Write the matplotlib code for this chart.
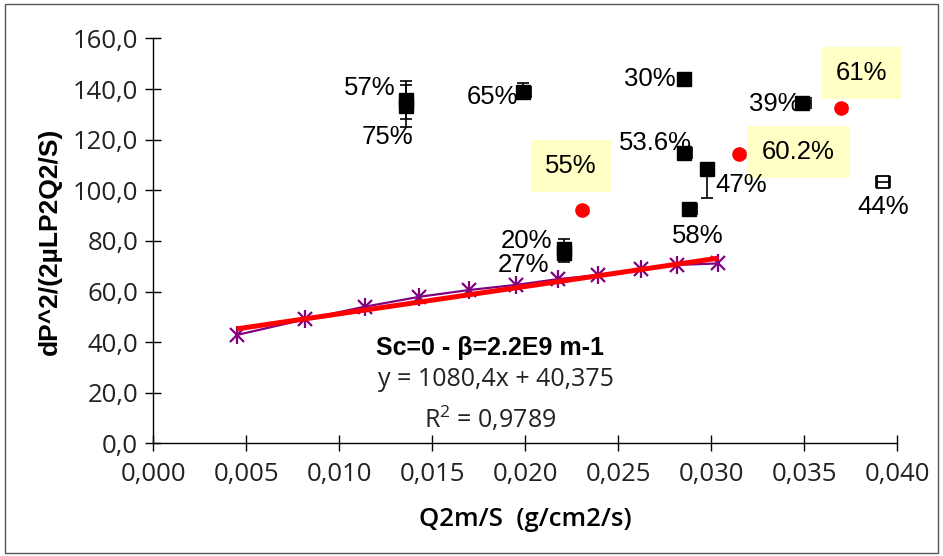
import matplotlib
matplotlib.use("Agg")
import matplotlib.pyplot as plt
from matplotlib.patches import Rectangle
from matplotlib.ticker import FuncFormatter, MultipleLocator

plt.rcParams['mathtext.default'] = 'regular'

# ---------------- data ----------------
# fitted series (purple asterisks)
fit_x = [0.00448, 0.00816, 0.01138, 0.01430, 0.01699, 0.01950, 0.02177,
         0.02393, 0.02622, 0.02814, 0.03038]
fit_y = [42.8, 49.0, 54.0, 57.9, 60.6, 62.6, 64.9, 66.5, 68.8, 70.5, 71.1]
slope = 1080.4
intercept = 40.375

# black squares with error bars
sq_labels = ["57%", "75%", "65%", "30%", "53.6%", "47%", "58%", "20%", "27%", "39%"]
sq_x = [0.01357, 0.01357, 0.01988, 0.02853, 0.02855, 0.02975, 0.02882, 0.02208, 0.02208, 0.03488]
sq_y = [135.7, 133.3, 138.9, 144.0, 114.6, 108.3, 92.5, 76.8, 75.4, 134.5]
sq_yerr_lo = [7.5, 8.3, 2.8, 0.0, 2.0, 11.5, 0.0, 4.0, 3.7, 0.0]
sq_yerr_hi = [7.5, 8.3, 3.5, 0.0, 0.0, 0.0, 0.0, 4.0, 3.7, 0.0]
sq_xerr_hi = [0.0004, 0.0004, 0.0004, 0.0004, 0.0004, 0.0004, 0.0004, 0.0004, 0.0004, 0.0005]

# hollow square
hs_label = "44%"
hs_x = 0.03923
hs_y = 103.3
hs_xerr = 0.0004

# red circles (highlighted)
rc_labels = ["55%", "60.2%", "61%"]
rc_x = [0.02305, 0.03149, 0.03697]
rc_y = [92.2, 114.3, 132.5]
rc_xerr_hi = [0.0003, 0.0003, 0.0003]

title_text = "Sc=0 - β=2.2E9 m-1"
eq_text = "y = 1080,4x + 40,375"
r2_text = "R$^{2}$ = 0,9789"
xlabel = "Q2m/S  (g/cm2/s)"
ylabel = "dP^2/(2µLP2Q2/S)"

# label offsets (pixels) relative to the points
sq_off = [(-36, 12), (-18, -31), (-31, -5), (-34, 0), (-29, 10), (35, -16),
          (8, -27), (-37, 8), (-40, -12), (-27, -1)]
hs_off = (0, -25)
rc_off = [(-11, 44), (59, 2), (21, 35)]

# ---------------- figure ----------------
W, H = 943, 556
fig = plt.figure(figsize=(W / 100, H / 100), dpi=100)
ax = fig.add_axes([153.3 / W, (H - 443.3) / H, (897.3 - 153.3) / W, (443.3 - 38.5) / H])

ax.set_xlim(0, 0.040)
ax.set_ylim(0, 160)
for s in ("top", "right"):
    ax.spines[s].set_visible(False)
for s in ("left", "bottom"):
    ax.spines[s].set_linewidth(1.0)
    ax.spines[s].set_color("black")

ax.xaxis.set_major_locator(MultipleLocator(0.005))
ax.yaxis.set_major_locator(MultipleLocator(20))
ax.xaxis.set_major_formatter(FuncFormatter(lambda v, p: f"{v:.3f}".replace(".", ",")))
ax.yaxis.set_major_formatter(FuncFormatter(lambda v, p: f"{v:.1f}".replace(".", ",")))
ax.tick_params(direction="inout", length=11.5, width=1.0, labelsize=18.5, colors="black")
ax.tick_params(axis="x", pad=8)
ax.tick_params(axis="y", pad=5)
for lab in ax.get_xticklabels() + ax.get_yticklabels():
    lab.set_fontfamily("Open Sans")
    lab.set_color("#222222")

# purple series
ax.plot(fit_x, fit_y, color="#800080", lw=1.6, zorder=3)
ax.plot(fit_x, fit_y, ls="none", marker="x", ms=10, mew=1.6, color="#800080", zorder=3)
ax.plot(fit_x, fit_y, ls="none", marker="|", ms=13, mew=1.6, color="#800080", zorder=3)

# red trend line
x0, x1 = min(fit_x), max(fit_x)
ax.plot([x0, x1], [slope * x0 + intercept, slope * x1 + intercept], color="#FF0000",
        lw=3.6, solid_capstyle="butt", zorder=4)

# black squares
for i in range(len(sq_x)):
    ax.errorbar([sq_x[i]], [sq_y[i]],
                yerr=[[sq_yerr_lo[i]], [sq_yerr_hi[i]]],
                xerr=[[0], [sq_xerr_hi[i]]],
                fmt="s", ms=10, color="black", ecolor="black", elinewidth=1.2,
                capsize=4.5, capthick=1.2, zorder=5)
    ax.annotate(sq_labels[i], (sq_x[i], sq_y[i]), xytext=sq_off[i],
                textcoords="offset pixels", ha="center", va="center",
                fontsize=18.5, family="Liberation Sans", zorder=6)

# hollow square
ax.plot([hs_x], [hs_y], ls="none", marker="s", ms=9, mfc="white", mec="black", mew=1.3, zorder=5)
ax.errorbar([hs_x], [hs_y], xerr=hs_xerr, fmt="none", ecolor="black", elinewidth=1.2,
            capsize=4, capthick=1.2, zorder=6)
ax.annotate(hs_label, (hs_x, hs_y), xytext=hs_off, textcoords="offset pixels",
            ha="center", va="center", fontsize=18.5, family="Liberation Sans")

# red circles with highlighted labels
for i in range(len(rc_x)):
    ax.errorbar([rc_x[i]], [rc_y[i]], xerr=[[0], [rc_xerr_hi[i]]], fmt="o", ms=9.5,
                color="#FF0000", ecolor="black", elinewidth=1.0, capsize=3, capthick=1.0,
                zorder=5)
    ax.annotate(rc_labels[i], (rc_x[i], rc_y[i]), xytext=rc_off[i],
                textcoords="offset pixels", ha="center", va="center",
                fontsize=18.5, family="Liberation Sans",
                bbox=dict(boxstyle="square,pad=0.55", fc="#FFFFC6", ec="none"))

# equation texts
ax.text(0.0181, 37.5, title_text, ha="center", va="center", fontsize=18,
        fontweight="bold", family="Liberation Sans")
ax.text(0.0184, 25.2, eq_text, ha="center", va="center", fontsize=18,
        family="Open Sans", color="#222222")
ax.text(0.0181, 9.5, r2_text, ha="center", va="center", fontsize=18,
        family="Open Sans", color="#222222")

ax.set_xlabel(xlabel, fontsize=18.5, family="Open Sans", fontweight="semibold", labelpad=14)
ax.set_ylabel(ylabel, fontsize=19, family="Liberation Sans", fontweight="bold", labelpad=8)

# outer frame
fig.patches.append(Rectangle((5 / W, 3 / H), (938 - 5) / W, (552 - 3) / H,
                             transform=fig.transFigure, fill=False, ec="#555555", lw=1.0))

fig.savefig("out.png", dpi=100)
